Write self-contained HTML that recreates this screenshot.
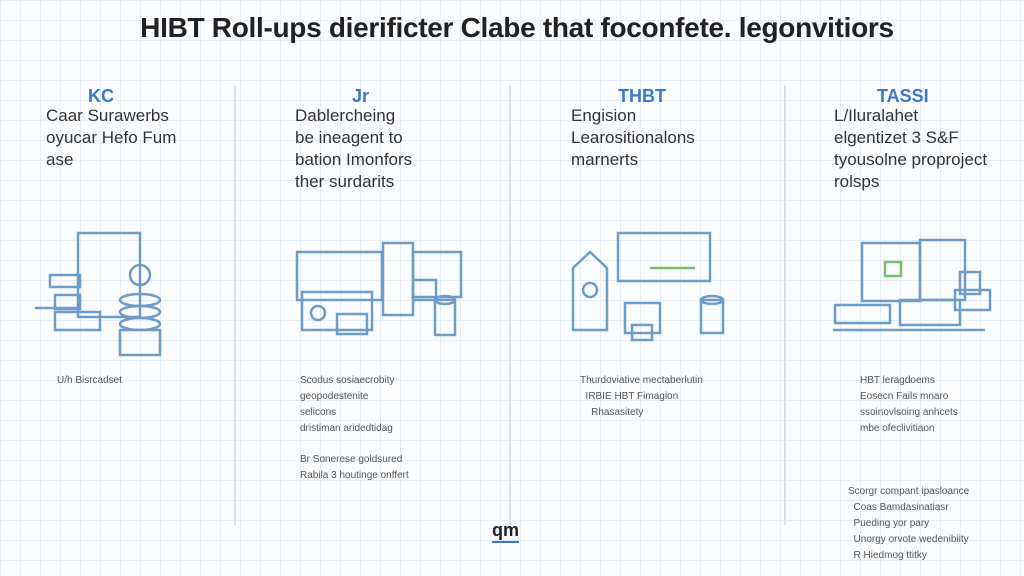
<!DOCTYPE html>
<html><head><meta charset="utf-8"><style>
body{margin:0;width:1024px;height:576px;overflow:hidden;background:#fbfcfe;font-family:"Liberation Sans",sans-serif;position:relative;
background-image:linear-gradient(#e6edf5 1px,transparent 1px),linear-gradient(90deg,#e6edf5 1px,transparent 1px);background-size:20px 20px;}
.t{position:absolute;white-space:nowrap;color:#2a2f38}
.h{font-size:18px;color:#3a78c8;font-weight:bold}
.d{font-size:17px;line-height:22px;color:#333}
.s{font-size:10px;line-height:16px;color:#555}
.v{position:absolute;top:85px;width:2px;height:440px;background:#dde1e6}
</style></head><body>
<div class="t" style="left:0;width:1034px;text-align:center;top:12px;font-size:28px;font-weight:bold;color:#222;letter-spacing:-0.3px">HIBT Roll-ups dierificter Clabe that foconfete. legonvitiors</div>
<div class="v" style="left:234px"></div><div class="v" style="left:509px"></div><div class="v" style="left:784px"></div>
<div class="t h" style="left:88px;top:86px">KC</div>
<div class="t h" style="left:352px;top:86px">Jr</div>
<div class="t h" style="left:618px;top:86px">THBT</div>
<div class="t h" style="left:877px;top:86px">TASSI</div>
<div class="t d" style="left:46px;top:105px">Caar Surawerbs<br>oyucar Hefo Fum<br>ase</div>
<div class="t d" style="left:295px;top:105px">Dablercheing<br>be ineagent to<br>bation Imonfors<br>ther surdarits</div>
<div class="t d" style="left:571px;top:105px">Engision<br>Learositionalons<br>marnerts</div>
<div class="t d" style="left:834px;top:105px">L/Iluralahet<br>elgentizet 3 S&amp;F<br>tyousolne proproject<br>rolsps</div>
<svg style="position:absolute;left:0;top:0" width="1024" height="576" fill="none" stroke="#6e9cc8" stroke-width="2.5">
<rect x="78" y="233" width="62" height="84"/><rect x="50" y="275" width="30" height="12"/><rect x="55" y="295" width="25" height="14"/><rect x="55" y="312" width="45" height="18"/>
<line x1="35" y1="308" x2="78" y2="308"/><circle cx="140" cy="275" r="10"/>
<ellipse cx="140" cy="300" rx="20" ry="6"/><ellipse cx="140" cy="312" rx="20" ry="6"/><ellipse cx="140" cy="324" rx="20" ry="6"/>
<rect x="120" y="330" width="40" height="25"/>
<rect x="297" y="252" width="85" height="48"/><rect x="383" y="243" width="30" height="72"/><rect x="413" y="252" width="48" height="45"/>
<rect x="302" y="292" width="70" height="38"/><circle cx="318" cy="313" r="7"/><rect x="337" y="314" width="30" height="20"/>
<rect x="413" y="280" width="23" height="20"/><ellipse cx="445" cy="300" rx="10" ry="4"/><rect x="435" y="300" width="20" height="35"/>
<rect x="618" y="233" width="92" height="48"/><path d="M573 300 L573 268 L590 252 L607 268 L607 330 L573 330 Z"/><circle cx="590" cy="290" r="7"/>
<rect x="625" y="303" width="35" height="30"/><rect x="632" y="325" width="20" height="15"/>
<ellipse cx="712" cy="300" rx="11" ry="4"/><rect x="701" y="300" width="22" height="33"/>
<line x1="650" y1="268" x2="695" y2="268" stroke="#7cbf6a"/>
<rect x="862" y="243" width="58" height="58"/><rect x="920" y="240" width="45" height="60"/><rect x="960" y="272" width="20" height="22"/>
<rect x="955" y="290" width="35" height="20"/><rect x="835" y="305" width="55" height="18"/><rect x="900" y="300" width="60" height="25"/>
<line x1="833" y1="330" x2="985" y2="330"/><rect x="885" y="262" width="16" height="14" stroke="#7cbf6a"/>
</svg>
<div class="t s" style="left:57px;top:373px">U/h Bisrcadset</div>
<div class="t s" style="left:300px;top:373px">Scodus sosiaecrobity<br>geopodestenite<br>selicons<br>dristiman aridedtidag</div>
<div class="t s" style="left:300px;top:452px">Br Sonerese goldsured<br>Rabila 3 houtinge onffert</div>
<div class="t s" style="left:580px;top:373px">Thurdoviative mectaberlutin<br>&nbsp; IRBIE HBT Fimagion<br>&nbsp; &nbsp; Rhasasitety</div>
<div class="t s" style="left:860px;top:373px">HBT leragdoems<br>Eosecn Fails mnaro<br>ssoinovlsoing anhcets<br>mbe ofeclivitiaon</div>
<div class="t s" style="left:848px;top:484px">Scorgr compant ipasloance<br>&nbsp; Coas Bamdasinatiasr<br>&nbsp; Pueding yor pary<br>&nbsp; Unorgy orvote wedenibiity<br>&nbsp; R Hiedmog ttitky</div>
<div class="t" style="left:492px;top:520px;font-size:18px;font-weight:bold;color:#222;border-bottom:2px solid #3a78c8">qm</div>
</body></html>
